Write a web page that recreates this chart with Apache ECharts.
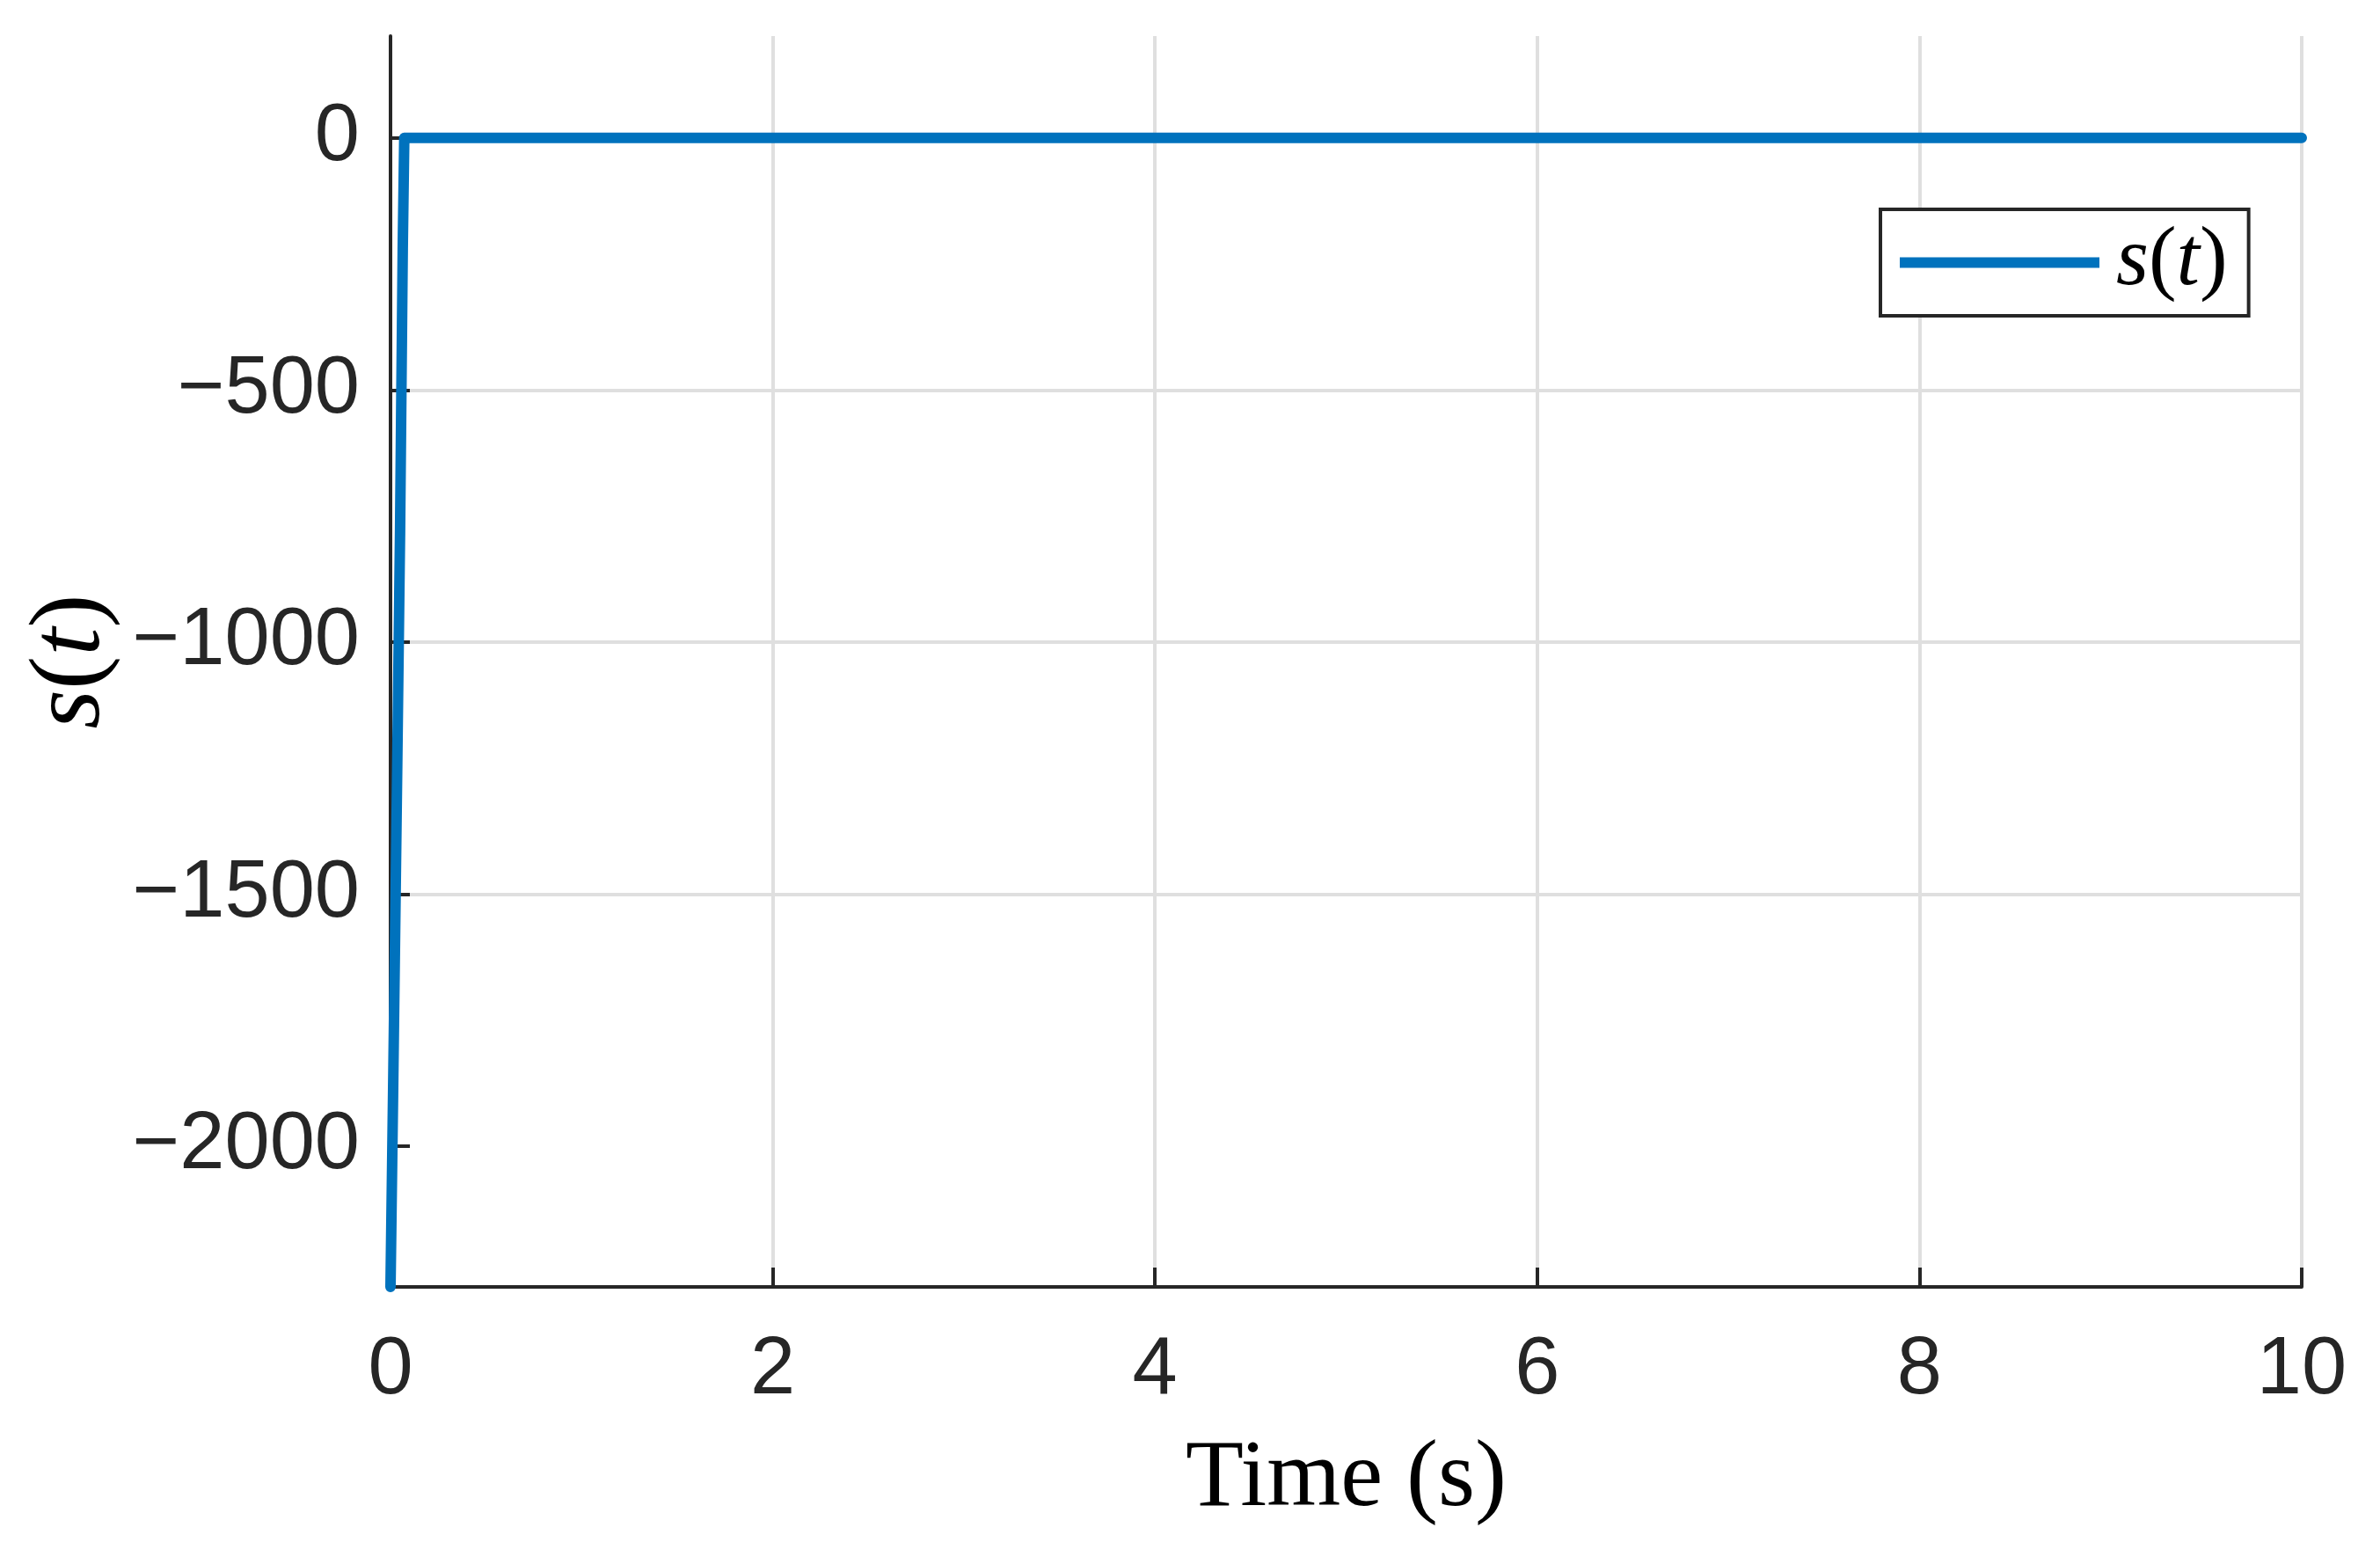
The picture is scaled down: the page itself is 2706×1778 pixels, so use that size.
<!DOCTYPE html>
<html>
<head>
<meta charset="utf-8">
<title>s(t)</title>
<script src="https://cdn.jsdelivr.net/npm/echarts@6/dist/echarts.min.js"></script>
<style>
    html, body { margin: 0; padding: 0; background: #ffffff; }
    #chart { width: 2706px; height: 1778px; }
</style>
</head>
<body>
<div id="chart"></div>
<script>
// 数据
var timeData = [0, 0.015, 0.035, 0.05, 0.064, 0.072, 10];
var sData = [-2279, -1850, -1250, -780, -220, 0, 0];
var xTicks = [0, 2, 4, 6, 8, 10];
var yTicks = [-2000, -1500, -1000, -500, 0];

var textColor = '#262626';
var gridColor = '#dfdfdf';
var lineColor = '#0072BD';

// s(t) 的富文本：s、t 斜体，括号正体
function stRich(size, lead) {
    return {
        f: { fontFamily: 'Liberation Serif', fontStyle: 'italic', fontSize: size, color: '#000', lineHeight: size, padding: [0, 0, 0, lead] },
        i: { fontFamily: 'Liberation Serif', fontStyle: 'italic', fontSize: size, color: '#000', lineHeight: size },
        r: { fontFamily: 'Liberation Serif', fontSize: size, color: '#000', lineHeight: size }
    };
}

var points = [];
for (let i = 0; i < timeData.length; i++) {
    points.push([timeData[i], sData[i]]);
}

var chart = echarts.init(document.getElementById('chart'), null, { renderer: 'canvas' });
chart.setOption({
    backgroundColor: '#ffffff',
    animation: false,
    grid: {
        left: 444,
        right: 89,
        top: 41,
        bottom: 315,
        containLabel: false
    },
    legend: {
        left: 2138,
        top: 238,
        orient: 'vertical',
        padding: [13, 24, 13, 22],
        borderColor: textColor,
        borderWidth: 4,
        backgroundColor: '#ffffff',
        itemWidth: 227,
        itemHeight: 12,
        data: [{ name: 's(t)', icon: 'rect' }],
        formatter: function () {
            return '{f|s}{r|(}{i|t}{r|)}';
        },
        textStyle: {
            rich: stRich(95, 14)
        }
    },
    xAxis: {
        type: 'value',
        min: 0,
        max: 10,
        interval: 2,
        name: 'Time (s)',
        nameLocation: 'middle',
        nameGap: 166,
        nameTextStyle: {
            fontFamily: 'Liberation Serif',
            fontSize: 108,
            color: '#000'
        },
        axisLine: {
            show: true,
            onZero: false,
            lineStyle: { color: textColor, width: 4 }
        },
        axisTick: {
            show: true,
            inside: true,
            length: 22,
            lineStyle: { color: textColor, width: 4 }
        },
        axisLabel: {
            margin: 50,
            fontFamily: 'Liberation Sans',
            fontSize: 92,
            color: textColor,
            formatter: function (v) {
                return xTicks.indexOf(v) >= 0 ? String(v) : '';
            }
        },
        splitLine: {
            show: true,
            lineStyle: { color: gridColor, width: 4 }
        }
    },
    yAxis: {
        type: 'value',
        min: -2279,
        max: 202,
        splitNumber: 5,
        name: '{i|s}{r|(}{i|t}{r|)}',
        nameLocation: 'middle',
        nameRotate: 90,
        nameGap: 298,
        nameTextStyle: {
            rich: stRich(115, 0)
        },
        axisLine: {
            show: true,
            onZero: false,
            lineStyle: { color: textColor, width: 4 }
        },
        axisTick: {
            show: true,
            inside: true,
            length: 22,
            customValues: yTicks,
            lineStyle: { color: textColor, width: 4 }
        },
        axisLabel: {
            margin: 35,
            fontFamily: 'Liberation Sans',
            fontSize: 92,
            color: textColor,
            customValues: yTicks,
            formatter: function (v) {
                return v < 0 ? '\u2212' + Math.abs(v) : String(v);
            }
        },
        splitLine: {
            show: true,
            showMinLine: false,
            showMaxLine: false,
            lineStyle: { color: gridColor, width: 4 }
        }
    },
    series: [
        {
            name: 's(t)',
            type: 'line',
            data: points,
            showSymbol: false,
            symbol: 'none',
            clip: true,
            itemStyle: { color: lineColor },
            lineStyle: {
                color: lineColor,
                width: 12,
                cap: 'round',
                join: 'round'
            },
            z: 3
        }
    ]
});
</script>
</body>
</html>
